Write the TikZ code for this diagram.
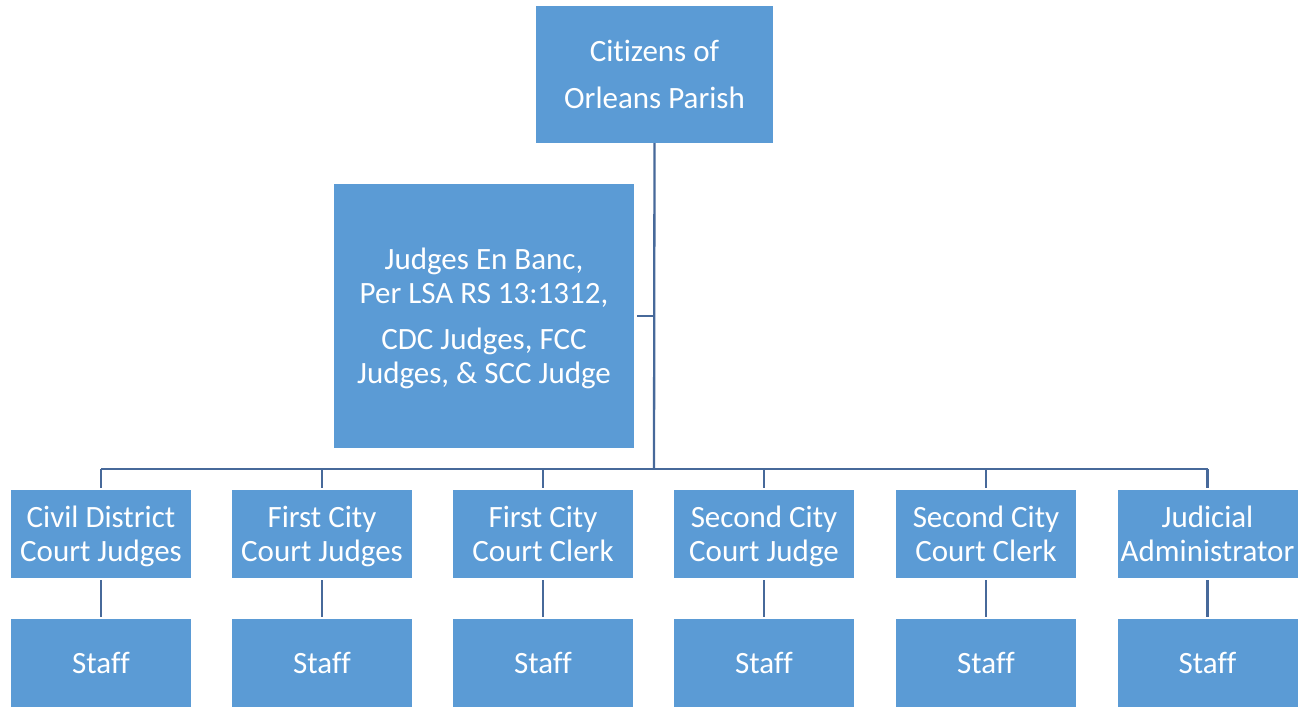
\documentclass[tikz,border=0pt]{standalone}
\usepackage{fontspec}
\setmainfont{Carlito}[Ligatures={NoCommon}]
\definecolor{boxblue}{HTML}{5B9BD5}
\definecolor{linkblue}{HTML}{47699A}
\newcommand\tstr{\rule{0pt}{31pt}}
\begin{document}
\begin{tikzpicture}[x=1pt,y=-1pt,
  box/.style={fill=boxblue, draw=none, text=white, align=center, inner sep=0pt,
    font={\fontsize{31}{34}\selectfont},
    execute at end node={\rule[-10pt]{0pt}{10pt}}},
  rowbox/.style={box, minimum width=180pt, minimum height=88pt},
  link/.style={draw=linkblue, line width=2.3pt}]
\useasboundingbox (0,0) rectangle (1314,708);
\begin{scope}
\clip (0,0) rectangle (1298,708);
\node[box, minimum width=237pt, minimum height=137pt] (top) at (654.5,74.5)
  {\tstr Citizens of\\[13pt]Orleans Parish};
\node[box, minimum width=300pt, minimum height=263pt] (mid) at (484,316)
  {\tstr Judges En Banc,\\Per LSA RS 13:1312,\\[12pt]CDC Judges, FCC\\Judges, \& SCC Judge};
\node[rowbox] (r1) at (101,534) {\tstr Civil District\\Court Judges};
\node[rowbox] (r2) at (322,534) {\tstr First City\\Court Judges};
\node[rowbox] (r3) at (543,534) {\tstr First City\\Court Clerk};
\node[rowbox] (r4) at (764,534) {\tstr Second City\\Court Judge};
\node[rowbox] (r5) at (986,534) {\tstr Second City\\Court Clerk};
\node[rowbox] (r6) at (1207.5,534) {\tstr Judicial\\Administrator};
\foreach \i/\x in {1/101,2/322,3/543,4/764,5/986,6/1207.5}{
  \node[rowbox] (s\i) at (\x,663) {\tstr Staff};
}
\end{scope}
\coordinate (busC) at (654,469);
\draw[link] (top.south) -- (busC);
\draw[link] (mid.east) ++(3pt,0) -- (mid.east -| busC);
\draw[link] (r1.north |- busC) -- (r6.north |- busC);
\foreach \i in {1,...,6}{
  \draw[link, shorten >=2pt] (r\i.north |- busC) -- (r\i.north);
  \draw[link, shorten >=2pt, shorten <=2pt] (r\i.south) -- (s\i.north);
}
\end{tikzpicture}
\end{document}
